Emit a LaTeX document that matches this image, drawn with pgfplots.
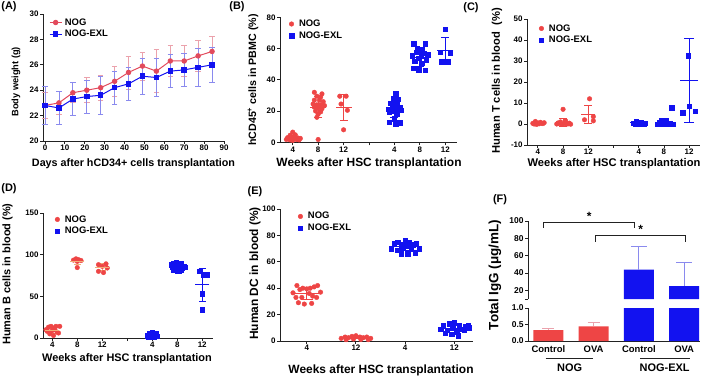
\documentclass[border=0pt]{standalone}
\usepackage{fontspec}
\setmainfont{Liberation Sans}
\usepackage{pgfplots}
\pgfplotsset{compat=1.18}

\definecolor{nogred}{HTML}{EE4545}
\definecolor{nogline}{HTML}{E24A5C}
\definecolor{nogerr}{HTML}{EBA2AC}
\definecolor{nogtan}{HTML}{F2AE78}
\definecolor{exlblue}{HTML}{1212F0}
\definecolor{exlerr}{HTML}{8A8AEE}
\definecolor{axisgray}{HTML}{222222}

\newcommand{\lab}[1]{\bfseries\fontsize{#1}{#1}\selectfont}

\pgfplotsset{
  prism/.style={
    scale only axis, anchor=south west, clip=false,
    axis x line*=bottom, axis y line*=left,
    axis line style={axisgray, line width=0.9bp, -},
    tick style={axisgray, line width=0.9bp},
    tick align=outside, major tick length=3bp,
    tick label style={font=\lab{8}, inner sep=1.2bp},
    /pgf/number format/assume math mode=true,
    legend cell align=left,
    legend style={draw=none, fill=none, inner sep=0pt, anchor=north west,
      font=\lab{9.5}, row sep=1.2bp, column sep=4bp,
      nodes={inner sep=1.2bp}},
  },
  dotleg/.style={legend image code/.code={%
      \draw[##1, only marks] plot coordinates {(3bp,0bp)};}},
  lineleg/.style={legend image code/.code={%
      \draw[mark repeat=2, mark phase=2, ##1] plot coordinates {(0bp,0bp) (6bp,0bp) (12bp,0bp)};}},
  nogdots/.style={only marks, mark=*, mark size=2.3bp, color=nogred},
  exldots/.style={only marks, mark=square*, mark size=2.2bp, color=exlblue},
  % mean as a horizontal dash, SD as capped error bar
  msd/.style n args={3}{forget plot, only marks, mark=-, mark size=#2,
    mark options={#1, line width=1.1bp},
    error bars/.cd, y dir=both, y explicit,
    error bar style={#1, line width=1bp},
    error mark options={#1, rotate=90, line width=1bp, mark size=#3}},
}

\begin{document}
\begin{tikzpicture}[x=1bp, y=1bp]
\useasboundingbox (0,0) rectangle (709,381);

% ---------------- (A) body weight ----------------
\begin{axis}[prism, at={(43bp,240bp)}, width=181bp, height=127bp,
  xmin=-1, xmax=90, ymin=20, ymax=30,
  xtick={0,10,...,90}, ytick={20,22,...,30},
  lineleg, legend style={at={(0.033,0.976)}, column sep=1.5bp}]
\addplot[nogline, line width=1bp, mark=*, mark size=2.2bp,
  mark options={fill=nogline},
  error bars/.cd, y dir=both, y explicit,
  error bar style={nogerr, line width=0.8bp},
  error mark options={nogerr, rotate=90, line width=0.8bp, mark size=2.8bp}]
coordinates {
 (0,22.8) +- (0,1.0) (7,23.0) +- (0,0.9) (14,23.8) +- (0,0.8)
 (21,24.0) +- (0,1.0) (28,24.2) +- (0,1.0) (35,24.7) +- (0,1.2)
 (42,25.4) +- (0,1.3) (49,25.9) +- (0,1.1) (56,25.5) +- (0,1.7)
 (63,26.3) +- (0,1.2) (70,26.3) +- (0,1.2) (77,26.7) +- (0,1.2)
 (84,27.05) +- (0,1.2)};
\addlegendentry{NOG}
\addplot[exlblue, line width=1bp, mark=square*, mark size=2.3bp,
  mark options={fill=exlblue},
  error bars/.cd, y dir=both, y explicit,
  error bar style={exlerr, line width=0.8bp},
  error mark options={exlerr, rotate=90, line width=0.8bp, mark size=2.8bp}]
coordinates {
 (0,22.8) +- (0,1.5) (7,22.6) +- (0,1.3) (14,23.3) +- (0,1.3)
 (21,23.5) +- (0,1.3) (28,23.6) +- (0,1.5) (35,24.2) +- (0,1.3)
 (42,24.5) +- (0,1.3) (49,25.1) +- (0,1.4) (56,25.0) +- (0,1.5)
 (63,25.5) +- (0,1.3) (70,25.6) +- (0,1.3) (77,25.8) +- (0,1.5)
 (84,26.0) +- (0,1.35)};
\addlegendentry{NOG-EXL}
\end{axis}

% ---------------- (B) hCD45+ in PBMC ----------------
\begin{axis}[prism, at={(280bp,238.7bp)}, width=177bp, height=125bp,
  xmin=0.5, xmax=7.46, ymin=0, ymax=80, ytick={0,20,...,80},
  xtick={1,...,7}, xticklabels={4,8,12,,4,8,12},
  dotleg, legend style={at={(0.051,0.99)}}]
\addplot[nogdots] coordinates {
 (1.0,6.5) (0.9,4.5) (1.1,4.8) (0.8,3) (0.95,2.5) (1.05,3.2) (1.2,2.8)
 (1.3,2.5) (0.75,1.8) (0.9,1.5) (1.15,1.7) (1.0,1.2) (1.25,1.5) (0.85,2.2)
 (1.85,32) (2.15,31) (1.95,29.5) (2.1,29) (1.85,27) (2.05,27) (2.2,26)
 (1.8,24.5) (1.95,24) (2.1,24) (2.25,23.5) (1.85,22.5) (2.0,22) (2.15,21.5)
 (1.9,20) (2.1,19.5) (2.0,18) (1.95,16) (2.0,1.8)
 (2.85,29.5) (3.1,29.5) (2.9,24.5) (3.15,20.5) (3.0,8)};
\addlegendentry{NOG}
\addplot[exldots] coordinates {
 (5.05,31) (4.95,28) (5.15,27.5) (5.0,26) (4.85,25) (5.1,24.5) (4.9,23)
 (5.2,22.5) (4.75,21) (5.05,21) (4.95,20) (5.25,20.5) (4.8,19.5) (5.1,18)
 (5.0,15) (4.8,13) (5.2,12.5) (5.05,12)
 (5.75,63) (6.2,63) (5.9,60) (6.1,59.5) (6.0,58.5) (5.85,57.5) (6.15,57)
 (6.3,56) (5.7,55.5) (6.05,55) (5.95,54) (6.25,52.5) (5.8,52) (6.1,50.5)
 (5.75,47.5) (5.95,46.5) (6.2,46)
 (7.0,72.5) (6.8,57.5) (7.2,57) (6.85,51.5) (7.1,51.5)};
\addlegendentry{NOG-EXL}
\addplot[msd={nogred}{8bp}{4bp}] coordinates {
 (1,3) +- (0,1.5) (2,22.5) +- (0,6.8) (3,22) +- (0,8.3)};
\addplot[msd={exlblue}{8bp}{4bp}] coordinates {
 (5,20.5) +- (0,4.6) (6,54.5) +- (0,5.8) (7,59) +- (0,7.8)};
\end{axis}

% ---------------- (C) human T cells ----------------
\begin{axis}[prism, at={(527bp,236bp)}, width=173bp, height=126bp,
  xmin=0.57, xmax=7.43, ymin=-10, ymax=50, ytick={-10,0,...,50},
  xtick={1,...,7}, xticklabels={4,8,12,,4,8,12},
  dotleg, legend style={at={(0.069,0.968)}}]
\addplot[nogdots] coordinates {
 (0.8,0.3) (0.9,1.2) (1.0,0.5) (1.1,0.8) (1.2,0.2) (0.85,0) (0.95,-0.2)
 (1.05,0.1) (1.15,0.4) (1.25,0.6)
 (1.75,0) (1.85,0.3) (1.95,-0.2) (2.05,0.2) (2.15,0) (2.25,0.4) (1.8,0.5)
 (1.9,1) (2.0,7) (2.1,1.5) (2.2,0.1) (2.3,-0.1)
 (3.05,12) (3.2,3.5) (2.85,2) (3.2,1.5)};
\addlegendentry{NOG}
\addplot[exldots] coordinates {
 (4.8,0.3) (4.9,1.2) (5.0,0.6) (5.1,0.9) (5.2,0.2) (4.85,0) (4.95,-0.2)
 (5.05,0.1) (5.15,0.4) (5.25,0.5)
 (5.75,0) (5.85,0.3) (5.95,-0.2) (6.05,0.2) (6.15,0) (6.25,0.4) (5.8,0.6)
 (5.9,1.2) (6.3,7.7) (6.1,1.8) (6.2,0.1) (6.35,-0.1) (6.0,0.5)
 (6.95,32.5) (7.0,8.5) (7.25,6) (6.75,5.3)};
\addlegendentry{NOG-EXL}
\addplot[msd={nogred}{7bp}{4bp}] coordinates {
 (1,0.5) +- (0,0.4) (2,0.8) +- (0,1.8) (3,4.4) +- (0,4.3)};
\addplot[msd={exlblue}{9bp}{5bp}] coordinates {
 (5,0.5) +- (0,0.4) (6,0.9) +- (0,1.9) (7,20.5) +- (0,20)};
\end{axis}

% ---------------- (D) human B cells ----------------
\begin{axis}[prism, at={(43bp,43bp)}, width=170bp, height=125bp,
  xmin=0.63, xmax=7.43, ymin=0, ymax=150, ytick={0,50,...,150},
  xtick={1,...,7}, xticklabels={4,8,12,,4,8,12},
  dotleg, legend style={at={(0.07,0.992)}}]
\addplot[nogdots] coordinates {
 (0.75,10) (0.85,13) (0.95,14) (1.05,12) (1.15,14) (1.3,14) (0.8,8)
 (0.9,7) (1.0,9) (1.1,10) (1.2,7) (0.9,5) (1.05,3) (1.25,6)
 (1.85,93.5) (1.95,95) (2.05,94) (2.15,93) (2.0,92) (2.0,84.5)
 (2.85,88) (3.15,89) (3.0,86) (3.2,84) (2.85,80) (3.05,78.5)};
\addlegendentry{NOG}
\addplot[exldots] coordinates {
 (4.8,3) (4.9,5) (5.0,7) (5.1,4) (5.2,2) (4.85,1) (4.95,2.5) (5.05,1.5)
 (5.15,5) (5.0,3.5) (4.9,6)
 (5.75,88) (5.85,90) (5.95,91) (6.05,90) (6.15,89) (6.25,86) (5.8,85)
 (5.9,86) (6.0,87) (6.1,86) (6.2,84) (5.85,82) (5.95,83) (6.05,81)
 (6.15,82) (6.3,85) (6.0,80)
 (6.9,80) (7.05,76) (7.2,76) (7.0,53) (7.0,34)};
\addlegendentry{NOG-EXL}
\addplot[msd={nogtan}{7bp}{3.5bp}] coordinates {
 (1,9.5) +- (0,3.6) (2,92) +- (0,3.8) (3,85) +- (0,4.2)};
\addplot[msd={exlblue}{7bp}{3.5bp}] coordinates {
 (5,3.8) +- (0,2) (6,86) +- (0,3) (7,64) +- (0,19.6)};
\end{axis}

% ---------------- (E) human DC ----------------
\begin{axis}[prism, at={(280bp,40bp)}, width=193bp, height=132bp,
  xmin=0.456, xmax=4.38, ymin=0, ymax=100, ytick={0,20,...,100},
  xtick={1,2,3,4}, xticklabels={4,12,4,12},
  dotleg, legend style={at={(0.093,0.985)}}]
\addplot[nogdots] coordinates {
 (0.72,36.5) (0.8,42) (0.86,39) (0.92,40) (1.0,39.5) (1.07,40) (1.15,41)
 (1.22,42) (1.28,37) (0.78,33) (0.9,33) (1.05,36) (1.12,34) (1.2,33)
 (0.83,29) (0.95,28) (1.1,28.5)
 (1.7,2) (1.78,3) (1.85,2.5) (1.92,3.5) (2.0,4) (2.08,3) (2.15,2.5)
 (2.22,3) (2.3,2) (1.8,1) (1.95,1.5) (2.1,1.2) (2.25,1)};
\addlegendentry{NOG}
\addplot[exldots] coordinates {
 (2.72,70) (2.78,74) (2.85,75) (2.93,73) (3.0,76) (3.07,75) (3.15,73)
 (3.22,74) (3.28,70) (2.85,69) (2.95,71) (3.05,72) (3.12,70) (2.92,66)
 (3.05,66) (3.2,67) (3.0,74.5)
 (3.72,9) (3.78,12) (3.85,8) (3.9,13) (3.97,10) (4.0,14) (4.05,7)
 (4.1,12) (4.15,9) (4.22,11) (4.28,12) (3.82,6) (3.95,5) (4.08,4)
 (4.2,8) (4.3,10)};
\addlegendentry{NOG-EXL}
\addplot[msd={nogred}{12bp}{6bp}] coordinates {
 (1,36) +- (0,4.4) (2,2.5) +- (0,0.9)};
\addplot[msd={exlblue}{12bp}{6bp}] coordinates {
 (3,71.5) +- (0,3) (4,9.5) +- (0,2.9)};
\end{axis}

% ---------------- (F) total IgG, broken axis ----------------
\begin{axis}[prism, at={(528bp,40bp)}, width=172bp, height=33bp,
  clip=true, clip mode=individual,
  xmin=0.55, xmax=4.35, ymin=0, ymax=1, ytick={0,0.5,1},
  yticklabels={0.0,0.5,1.0},
  tick label style={font=\lab{8.5}},
  xtick={1,2,3,4}, xticklabels={Control,OVA,Control,OVA},
  x tick style={draw=none},
  xticklabel style={font=\lab{9.5}}]
\addplot[ybar, bar shift=0pt, bar width=30bp, fill=nogred, draw=none,
  error bars/.cd, y dir=plus, y explicit,
  error bar style={nogerr, line width=1bp},
  error mark options={nogerr, rotate=90, line width=1bp, mark size=6bp}]
coordinates {(1,0.33) +- (0,0.05) (2,0.44) +- (0,0.11)};
\addplot[ybar, bar shift=0pt, bar width=30bp, fill=exlblue, draw=none]
coordinates {(3,44) (4,25)};
\draw[axisgray, line width=0.9bp] (axis cs:0.94,-0.52) -- (axis cs:1.98,-0.52);
\draw[axisgray, line width=0.9bp] (axis cs:3.02,-0.52) -- (axis cs:4.12,-0.52);
\node[font=\lab{11}] at (axis cs:1.47,-0.82) {NOG};
\node[font=\lab{11}] at (axis cs:3.57,-0.82) {NOG-EXL};
\end{axis}

\begin{axis}[prism, at={(528bp,82bp)}, width=172bp, height=78bp,
  clip=true, clip mode=individual, axis x line=none,
  xmin=0.55, xmax=4.35, ymin=10, ymax=100, ytick={10,20,40,60,80,100},
  yticklabels={,20,40,60,80,100}, tick label style={font=\lab{8.5}}]
\addplot[ybar, bar shift=0pt, bar width=30bp, fill=exlblue, draw=none,
  error bars/.cd, y dir=plus, y explicit,
  error bar style={exlerr, line width=1bp},
  error mark options={exlerr, rotate=90, line width=1bp, mark size=8bp}]
coordinates {(3,44) +- (0,27) (4,25) +- (0,27)};
\draw[axisgray, line width=0.9bp] (axis cs:0.9,92) -- (axis cs:0.9,98)
  -- (axis cs:2.9,98) -- (axis cs:2.9,92);
\draw[axisgray, line width=0.9bp] (axis cs:2.03,76) -- (axis cs:2.03,83)
  -- (axis cs:4.03,83) -- (axis cs:4.03,76);
\node[font=\lab{12}] at (axis cs:1.9,105) {*};
\node[font=\lab{12}] at (axis cs:3.04,90) {*};
\end{axis}

% ---------------- axis titles and panel tags ----------------
\node[font=\lab{10.8}] at (133.5,217) {Days after hCD34+ cells transplantation};
\node[font=\lab{9.3}, rotate=90] at (16,299.3) {Body weight (g)};
\node[font=\lab{12}] at (369,218) {Weeks after HSC transplantation};
\node[font=\lab{10.7}, rotate=90] at (253,301) {hCD45\textsuperscript{+} cells in PBMC (\%)};
\node[font=\lab{11.2}] at (614,217.7) {Weeks after HSC transplantation};
\node[font=\lab{11.2}, rotate=90] at (497,300) {Human T cells in blood\ \ (\%)};
\node[font=\lab{11}] at (127,22.7) {Weeks after HSC transplantation};
\node[font=\lab{11}, rotate=90] at (7.5,107) {Human B cells in blood (\%)};
\node[font=\lab{12}] at (381,11) {Weeks after HSC transplantation};
\node[font=\lab{12}, rotate=90] at (255,107.5) {Human DC in blood (\%)};
\node[font=\lab{13.5}, rotate=90] at (495,106) {Total IgG (μg/mL)};

\node[font=\lab{11}] at (9,374) {(A)};
\node[font=\lab{11}] at (237,374) {(B)};
\node[font=\lab{11}] at (471,373) {(C)};
\node[font=\lab{11}] at (9,192) {(D)};
\node[font=\lab{11}] at (255,189) {(E)};
\node[font=\lab{11}] at (500,181) {(F)};
\end{tikzpicture}
\end{document}
